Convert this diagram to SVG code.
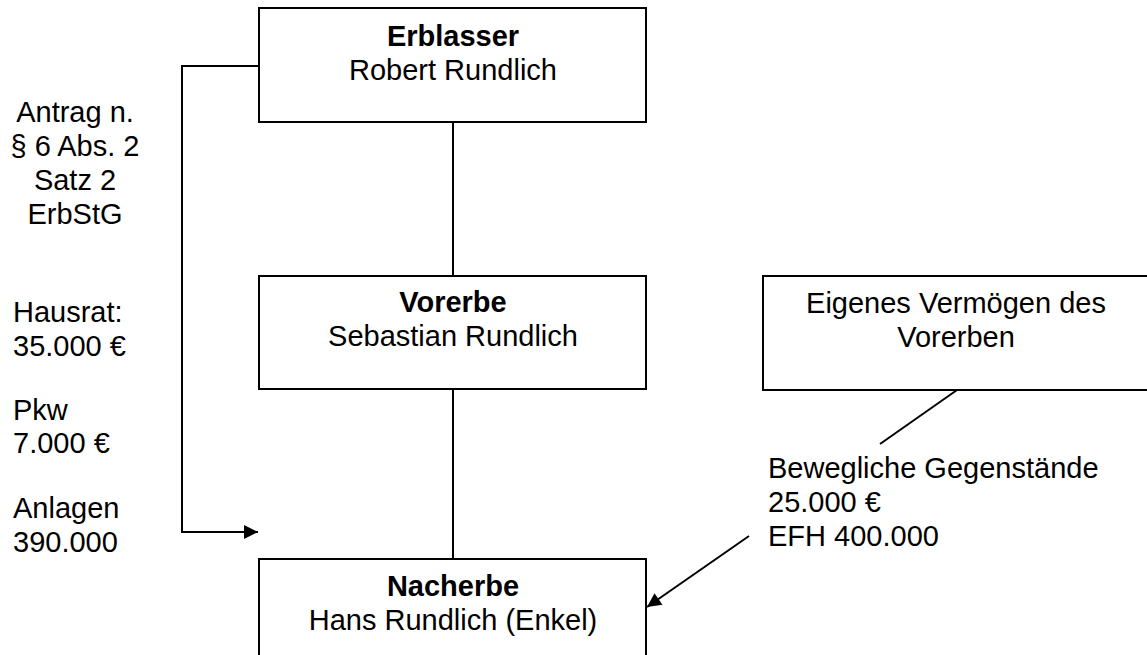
<svg xmlns="http://www.w3.org/2000/svg" width="1147" height="655" viewBox="0 0 1147 655">
  <style>
    .box { fill: #ffffff; stroke: #000000; stroke-width: 2; }
    .line { fill: none; stroke: #000000; stroke-width: 2; }
    text { font-family: "Liberation Sans", Arial, sans-serif; font-size: 29px; fill: #000000; }
    .c { text-anchor: middle; }
    .b { font-weight: bold; }
  </style>
  <defs>
    <marker id="arrow" viewBox="0 0 10 10" refX="10" refY="5" markerWidth="10" markerHeight="10" markerUnits="userSpaceOnUse" orient="auto">
      <path d="M0,0 L10,5 L0,10 z" fill="#000000"/>
    </marker>
    <marker id="arrowL" viewBox="0 0 10 10" refX="10" refY="5" markerWidth="18" markerHeight="14" markerUnits="userSpaceOnUse" orient="auto">
      <path d="M0,0 L10,5 L0,10 z" fill="#000000"/>
    </marker>
  </defs>

  <rect width="1147" height="655" fill="#ffffff"/>

  <g id="connectors">
    <line class="line" x1="453" y1="122" x2="453" y2="276"/>
    <line class="line" x1="453" y1="389" x2="453" y2="559"/>
    <polyline class="line" points="259,66 182,66 182,532 258,532" marker-end="url(#arrowL)"/>
    <line class="line" x1="957" y1="390" x2="880" y2="444"/>
    <line class="line" x1="749" y1="536" x2="647" y2="607" marker-end="url(#arrowL)"/>
  </g>

  <g id="erblasser">
    <rect class="box" x="259" y="8" width="387" height="114"/>
    <text class="c b" x="453" y="46">Erblasser</text>
    <text class="c" x="453" y="80">Robert Rundlich</text>
  </g>

  <g id="vorerbe">
    <rect class="box" x="259" y="276" width="387" height="113"/>
    <text class="c b" x="453" y="312">Vorerbe</text>
    <text class="c" x="453" y="346">Sebastian Rundlich</text>
  </g>

  <g id="eigenes-vermoegen">
    <rect class="box" x="763" y="276" width="390" height="114"/>
    <text class="c" x="956" y="313">Eigenes Vermögen des</text>
    <text class="c" x="956" y="347">Vorerben</text>
  </g>

  <g id="nacherbe">
    <rect class="box" x="259" y="559" width="387" height="110"/>
    <text class="c b" x="453" y="596">Nacherbe</text>
    <text class="c" x="453" y="630">Hans Rundlich (Enkel)</text>
  </g>

  <g id="antrag">
    <text class="c" x="75" y="122">Antrag n.</text>
    <text class="c" x="75" y="156">§ 6 Abs. 2</text>
    <text class="c" x="75" y="190">Satz 2</text>
    <text class="c" x="75" y="224">ErbStG</text>
  </g>

  <g id="nachlass">
    <text x="13" y="322">Hausrat:</text>
    <text x="13" y="356">35.000 €</text>
    <text x="13" y="420">Pkw</text>
    <text x="13" y="453">7.000 €</text>
    <text x="13" y="518">Anlagen</text>
    <text x="13" y="552">390.000</text>
  </g>

  <g id="eigenvermoegen-posten">
    <text x="768" y="478">Bewegliche Gegenstände</text>
    <text x="768" y="512">25.000 €</text>
    <text x="768" y="546">EFH 400.000</text>
  </g>
</svg>
